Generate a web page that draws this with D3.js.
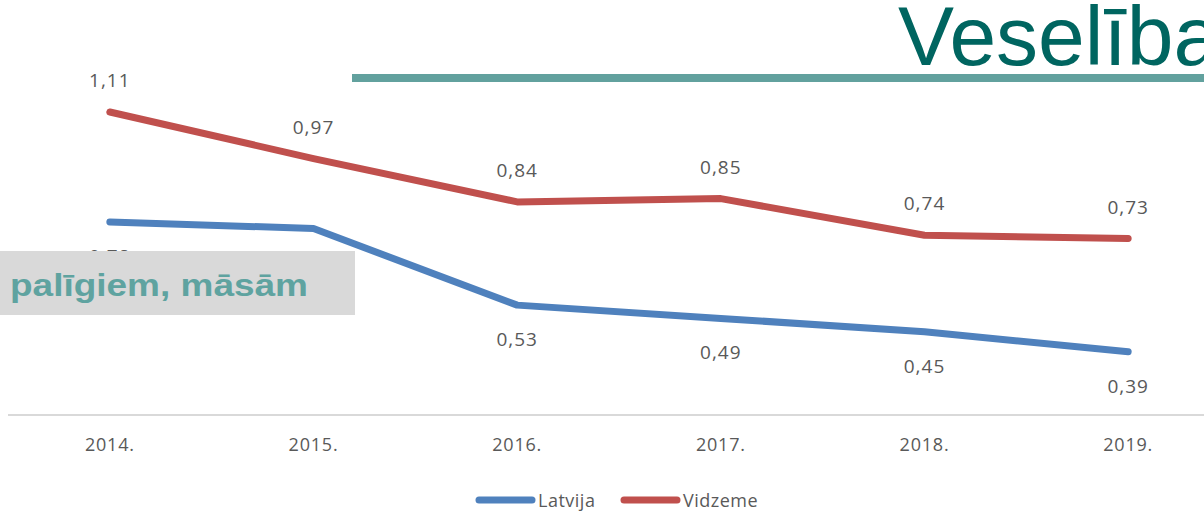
<!DOCTYPE html>
<html>
<head>
<meta charset="utf-8">
<script src="https://cdn.jsdelivr.net/npm/d3@7"></script>
<style>
  body { margin: 0; background: #fff; }
  svg { display: block; }
</style>
</head>
<body>
<svg id="chart" width="1204" height="526"></svg>
<script>
// Data
const years = ["2014.", "2015.", "2016.", "2017.", "2018.", "2019."];
const latvija = [0.78, 0.76, 0.53, 0.49, 0.45, 0.39];
const vidzeme = [1.11, 0.97, 0.84, 0.85, 0.74, 0.73];
const seriesNames = ["Latvija", "Vidzeme"];
const colors = ["#4f81bd", "#c0504d"];

const svg = d3.select("#chart");
const width = 1204;

// Scales
const x = d3.scalePoint().domain(years).range([8, 1230]).padding(0.5);
const y = d3.scaleLinear().domain([0.2, 1.11]).range([415, 112]);

const fmt = v => d3.format(".2f")(v).replace(".", ",");
const labelFont = "'Open Sans', 'Noto Sans', sans-serif";

// Axis line + year labels
svg.append("line")
  .attr("x1", 8).attr("x2", width)
  .attr("y1", y(0.2)).attr("y2", y(0.2))
  .attr("stroke", "#d9d9d9").attr("stroke-width", 2);

svg.selectAll(".tick")
  .data(years)
  .join("text")
  .attr("x", d => x(d))
  .attr("y", 451)
  .attr("text-anchor", "middle")
  .attr("font-family", labelFont)
  .attr("font-size", 18)
  .attr("letter-spacing", 0.8)
  .attr("fill", "#595959")
  .text(d => d);

// Lines
const line = d3.line()
  .x((d, i) => x(years[i]))
  .y(d => y(d));

[latvija, vidzeme].forEach((vals, k) => {
  svg.append("path")
    .datum(vals)
    .attr("d", line)
    .attr("fill", "none")
    .attr("stroke", colors[k])
    .attr("stroke-width", 7)
    .attr("stroke-linecap", "round")
    .attr("stroke-linejoin", "round");
});

// Data labels
svg.selectAll(".lblV")
  .data(vidzeme)
  .join("text")
  .attr("x", (d, i) => x(years[i]))
  .attr("y", d => y(d) - 25)
  .attr("text-anchor", "middle")
  .attr("font-family", labelFont)
  .attr("font-size", 19)
  .attr("letter-spacing", 1)
  .attr("fill", "#595959")
  .text(fmt);

svg.selectAll(".lblL")
  .data(latvija.map((v, i) => ({ v, i })).filter(d => d.i !== 1))
  .join("text")
  .attr("x", d => x(years[d.i]))
  .attr("y", d => y(d.v) + 41)
  .attr("text-anchor", "middle")
  .attr("font-family", labelFont)
  .attr("font-size", 19)
  .attr("letter-spacing", 1)
  .attr("fill", "#595959")
  .text(d => fmt(d.v));

// Legend
const legend = svg.append("g");
const legendX = [476, 621];
seriesNames.forEach((name, k) => {
  legend.append("line")
    .attr("x1", legendX[k] + 3).attr("x2", legendX[k] + 56)
    .attr("y1", 500).attr("y2", 500)
    .attr("stroke", colors[k]).attr("stroke-width", 7)
    .attr("stroke-linecap", "round");
  legend.append("text")
    .attr("x", legendX[k] + 62)
    .attr("y", 507)
    .attr("font-family", labelFont)
    .attr("font-size", 18)
    .attr("letter-spacing", 0.5)
    .attr("fill", "#595959")
    .text(name);
});

// Slide overlay: gray box with text
svg.append("rect")
  .attr("x", 0).attr("y", 251)
  .attr("width", 355).attr("height", 64)
  .attr("fill", "#d9d9d9");
svg.append("text")
  .attr("x", 10).attr("y", 296)
  .attr("font-family", "'Liberation Sans', Arial, sans-serif")
  .attr("font-weight", "bold")
  .attr("font-size", 32)
  .attr("textLength", 298)
  .attr("lengthAdjust", "spacingAndGlyphs")
  .attr("fill", "#5fa3a0")
  .text("palīgiem, māsām");

// Title and rule
svg.append("rect")
  .attr("x", 352).attr("y", 74)
  .attr("width", width - 352).attr("height", 8)
  .attr("fill", "#62a19e");
svg.append("text")
  .attr("x", 898).attr("y", 65)
  .attr("font-family", "'Liberation Sans', Arial, sans-serif")
  .attr("font-size", 84)
  .attr("fill", "#006560")
  .text("Veselība");
</script>
</body>
</html>
